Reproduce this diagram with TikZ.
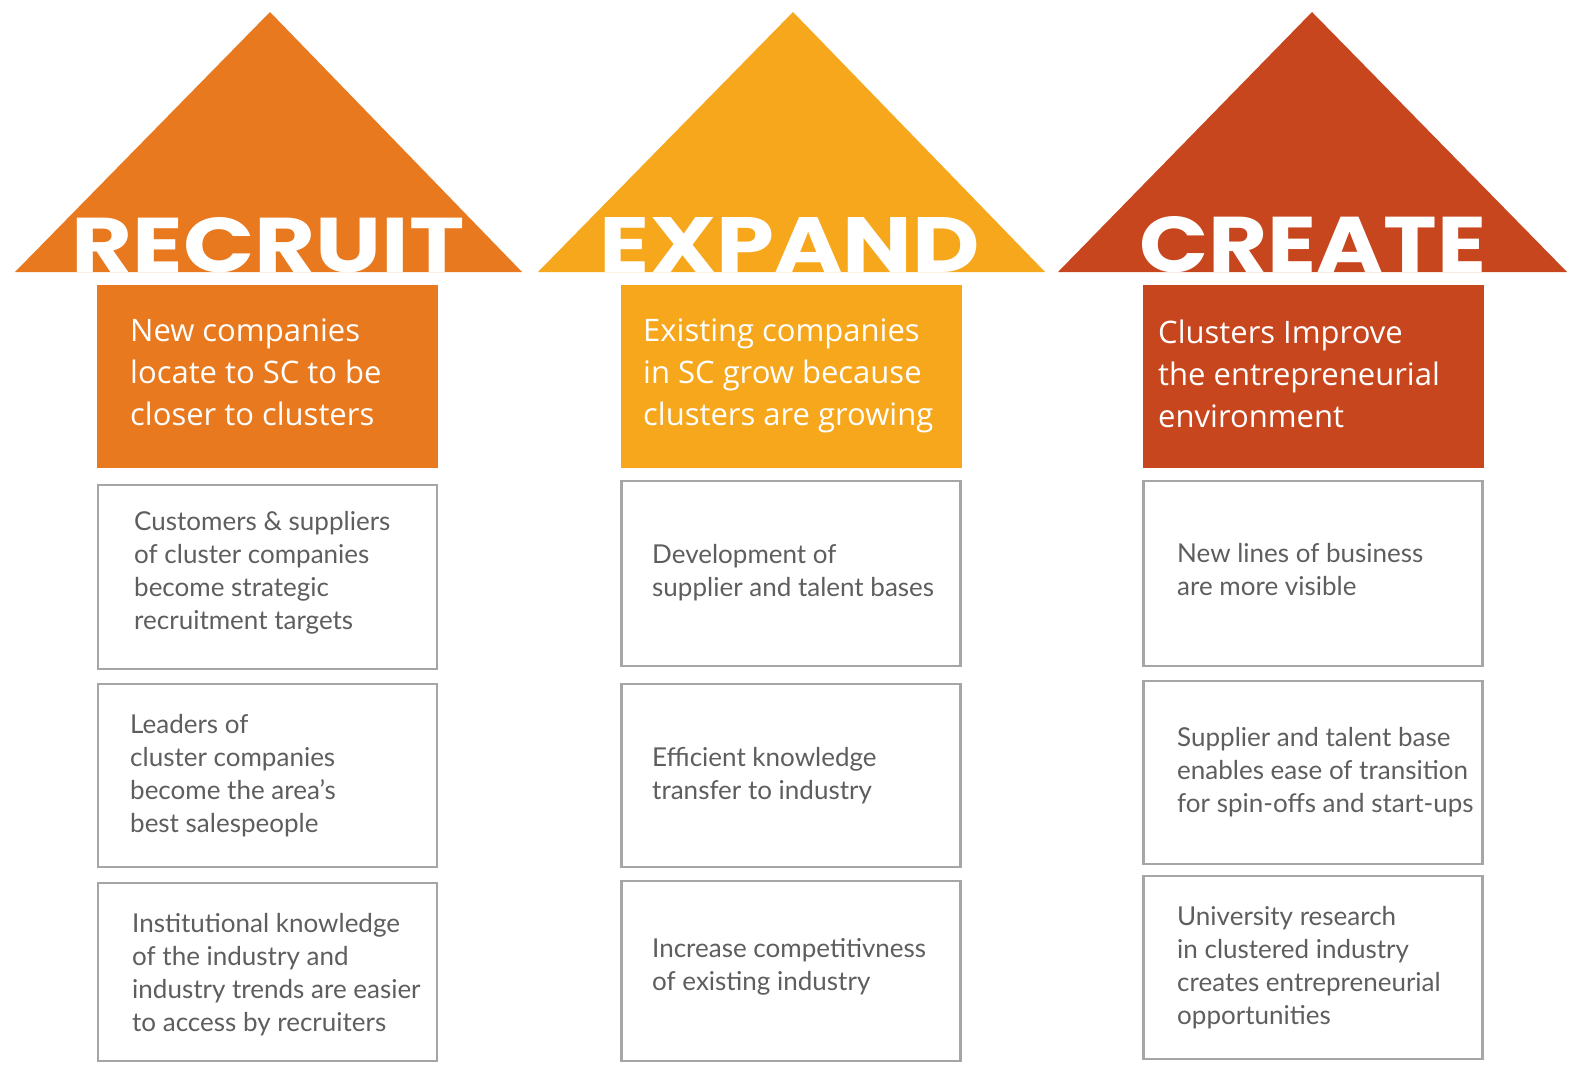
\documentclass[tikz,border=0pt]{standalone}
\usepackage{fontspec}
\setmainfont{Lato}
\newfontfamily\titlefont{Poppins}
\newfontfamily\headfont{Open Sans}
\definecolor{recruitc}{HTML}{E8791E}
\definecolor{expandc}{HTML}{F6A71C}
\definecolor{createc}{HTML}{C8461E}
\definecolor{boxgray}{HTML}{A6A6A6}
\definecolor{bodygray}{HTML}{5E5E5E}
\begin{document}
\begin{tikzpicture}[x=1pt,y=-1pt,
  hbox/.style={rectangle, inner sep=0pt, minimum width=341pt, minimum height=183pt},
  wbox/.style={rectangle, draw=boxgray, line width=2.5pt, fill=white, inner sep=0pt, minimum width=339pt},
  htext/.style={anchor=west, align=left, text=white, inner sep=0pt, font=\headfont\fontsize{31}{42}\selectfont},
  btext/.style={anchor=west, align=left, text=bodygray, inner sep=0pt, font=\fontsize{26}{33}\selectfont},
  ttext/.style={anchor=base, inner sep=0pt, text=white}]
\useasboundingbox (0,0) rectangle (1587,1076);
\fill[white] (0,0) rectangle (1587,1076);
% triangles
\fill[recruitc] (15,272) -- (270,12) -- (522,272) -- cycle;
\fill[expandc] (538,272) -- (793,12) -- (1045,272) -- cycle;
\fill[createc] (1058,272) -- (1312,12) -- (1567,272) -- cycle;
\node[ttext] (t1) at (268,272) {\resizebox{393pt}{55pt}{\titlefont\bfseries RECRUIT}};
\node[ttext] (t2) at (790,272) {\resizebox{380pt}{55pt}{\titlefont\bfseries EXPAND}};
\node[ttext] (t3) at (1313,272) {\resizebox{347pt}{56pt}{\titlefont\bfseries CREATE}};
% header boxes
\node[hbox, fill=recruitc] (h1) at (267.5,376.5) {};
\node[hbox, fill=expandc] (h2) at (791,376.5) {};
\node[hbox, fill=createc] (h3) at (1313,376.5) {};
\node[htext] (h1t) at (130,372) {New companies\\locate to SC to be\\closer to clusters};
\node[htext] (h2t) at (643,376) {Existing companies\\in SC grow because\\clusters are growing};
\node[htext] (h3t) at (1158,374) {Clusters Improve\\the entrepreneurial\\environment};
% white boxes
\node[wbox, minimum height=184pt] (a1) at (267.5,577) {};
\node[wbox, minimum height=183pt] (a2) at (267.5,775.5) {};
\node[wbox, minimum height=178pt] (a3) at (267.5,972) {};
\node[wbox, minimum height=185pt] (b1) at (791,573.5) {};
\node[wbox, minimum height=183pt] (b2) at (791,775.5) {};
\node[wbox, minimum height=180pt] (b3) at (791,971) {};
\node[wbox, minimum height=185pt] (c1) at (1313,573.5) {};
\node[wbox, minimum height=183pt] (c2) at (1313,772.5) {};
\node[wbox, minimum height=183pt] (c3) at (1313,967.5) {};
% body texts
\node[btext] (a1t) at (134,573) {Customers \& suppliers\\of cluster companies\\become strategic\\recruitment targets};
\node[btext] (a2t) at (130,776) {Leaders of\\cluster companies\\become the area’s\\best salespeople};
\node[btext] (a3t) at (132,975) {Institutional knowledge\\of the industry and\\industry trends are easier\\to access by recruiters};
\node[btext] (b1t) at (652,573) {Development of\\supplier and talent bases};
\node[btext] (b2t) at (652,776) {Efficient knowledge\\transfer to industry};
\node[btext] (b3t) at (652,967) {Increase competitivness\\of existing industry};
\node[btext] (c1t) at (1177,570) {New lines of business\\are more visible};
\node[btext] (c2t) at (1177,772) {Supplier and talent base\\enables ease of transition\\for spin-offs and start-ups};
\node[btext] (c3t) at (1177,968) {University research\\in clustered industry\\creates entrepreneurial\\opportunities};
\end{tikzpicture}
\end{document}
